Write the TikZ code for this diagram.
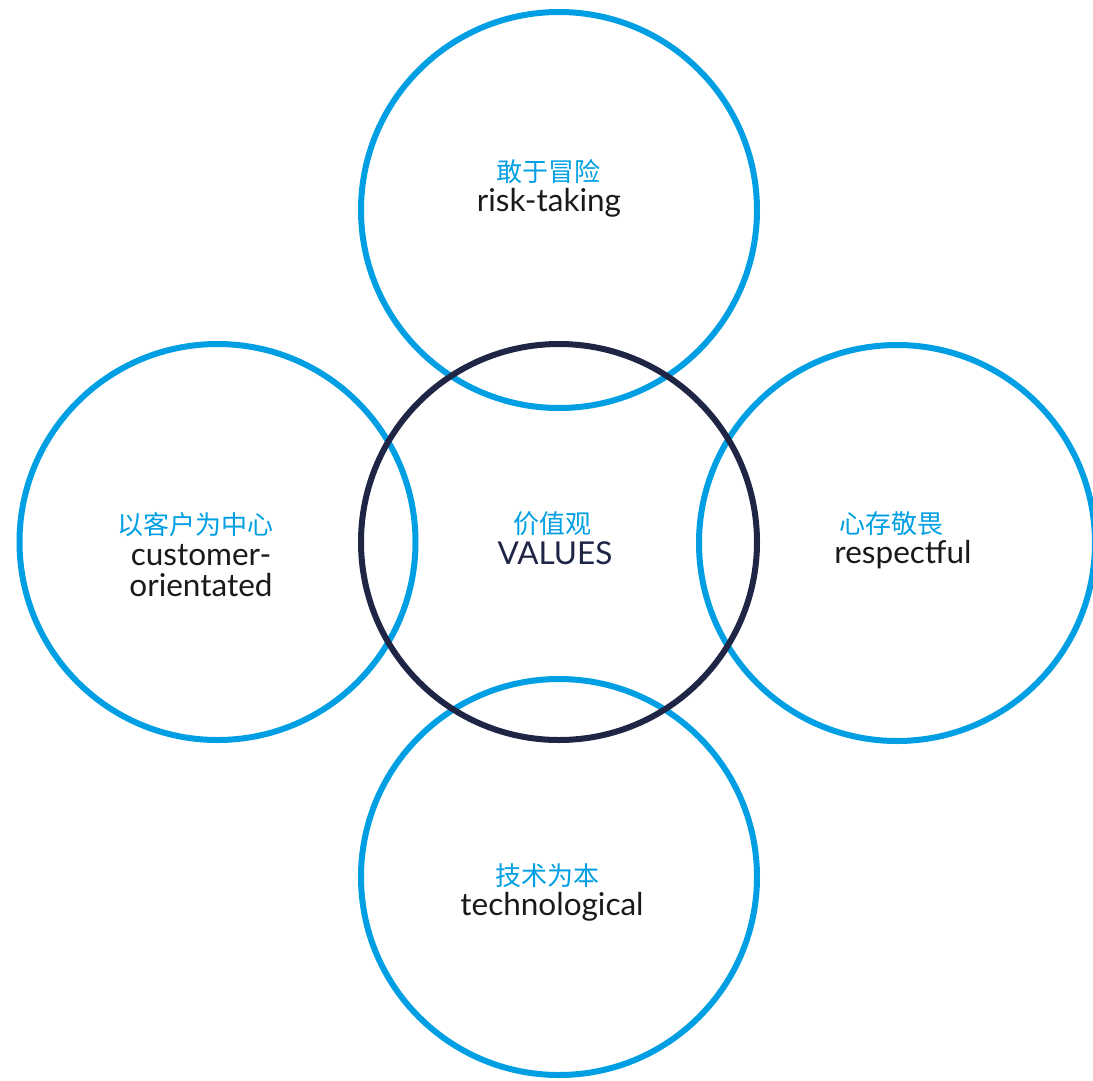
\documentclass[tikz,border=0pt]{standalone}
\usepackage{fontspec}
\setmainfont{Lato}
\newfontfamily\cjk{Noto Sans CJK SC}
\definecolor{cblue}{HTML}{009FE3}
\definecolor{cdark}{HTML}{1E2545}
\definecolor{ctext}{HTML}{1A1A1A}
\begin{document}
\begin{tikzpicture}[x=1pt,y=-1pt,
  ring/.style={draw=cblue,line width=6pt,circle,minimum size=396pt,inner sep=0pt},
  core/.style={draw=cdark,line width=6pt,circle,minimum size=396pt,inner sep=0pt},
  zh/.style={text=cblue,font=\cjk\fontsize{26}{30}\selectfont,inner sep=0pt},
  en/.style={text=ctext,font=\fontsize{31.5}{31}\selectfont,inner sep=0pt,align=center}]
\useasboundingbox (0,0) rectangle (1093,1080);
\node[ring] (top) at (559,210) {};
\node[ring] (left) at (217.5,542) {};
\node[ring] (right) at (897,543) {};
\node[ring] (bottom) at (559,877) {};
\node[core] (center) at (559,542) {};
\node[zh] (topzh) at (548,172) {敢于冒险};
\node[en] (topen) at (549,203) {risk-taking};
\node[zh] (leftzh) at (195,525) {以客户为中心};
\node[en] (leften) at (201,571) {customer-\\orientated};
\node[zh] (cenzh) at (552,524) {价值观};
\node[en,text=cdark] (cenen) at (555,553) {VALUES};
\node[zh] (rightzh) at (891,524) {心存敬畏};
\node[en] (righten) at (903,555) {respectful};
\node[zh] (botzh) at (547,876) {技术为本};
\node[en] (boten) at (552,907) {technological};
\end{tikzpicture}
\end{document}
